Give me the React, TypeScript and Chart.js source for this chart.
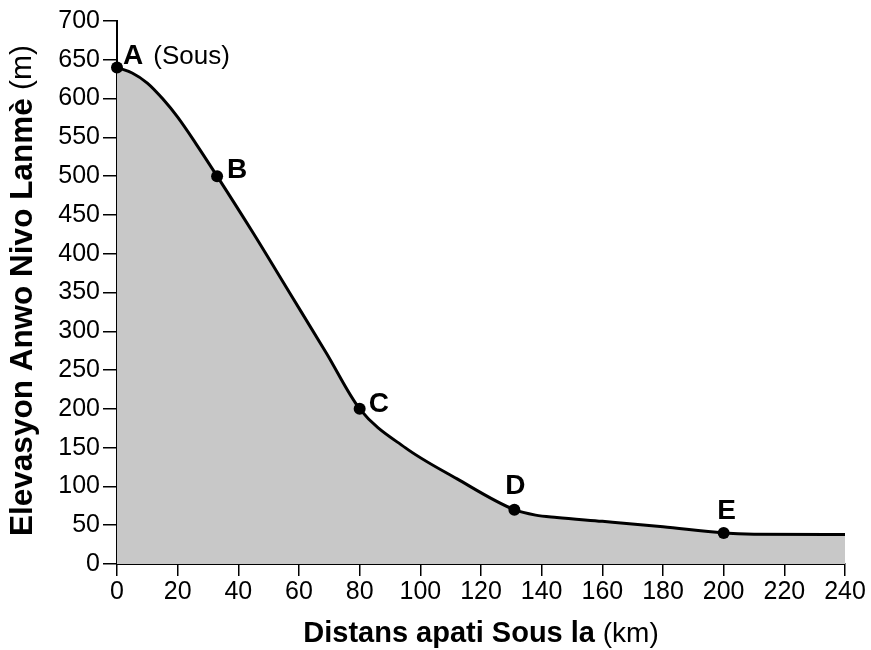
import { useEffect, useRef } from "react";
import { Chart, registerables } from "chart.js";

Chart.register(...registerables);

// Profile of the river bed (km from source, elevation in m)
const profileKm = [0, 5, 10, 15, 20, 26, 33, 45, 57, 69, 80, 95, 112, 131, 138, 145, 160, 180, 200, 210, 240];
const profileElev = [640, 633, 620, 600, 576, 542, 500, 426, 349, 272, 200, 150, 110, 70, 63, 60, 55, 48, 40, 38.5, 38];

// Labelled stations
const stationNames = ["A", "B", "C", "D", "E"];
const stationNotes = ["(Sous)", "", "", "", ""];
const stationKm = [0, 33, 80, 131, 200];
const stationElev = [640, 500, 200, 70, 40];

// Axes
const xTicks = [0, 20, 40, 60, 80, 100, 120, 140, 160, 180, 200, 220, 240];
const yTicks = [0, 50, 100, 150, 200, 250, 300, 350, 400, 450, 500, 550, 600, 650, 700];
const xTitleMain = "Distans apati Sous la";
const xTitleUnit = " (km)";
const yTitleMain = "Elevasyon Anwo Nivo Lanmè";
const yTitleUnit = " (m)";

const FONT = "'Liberation Sans', Arial, Helvetica, sans-serif";

// label placement (style only)
const labelStyle = [
  { dx: 6, dy: -11, align: "left" },
  { dx: 10, dy: -6, align: "left" },
  { dx: 9, dy: -5, align: "left" },
  { dx: 1, dy: -23, align: "center" },
  { dx: 3, dy: -22, align: "center" },
];

function drawMixed(
  ctx: CanvasRenderingContext2D,
  parts: { text: string; font: string }[],
  cx: number,
  cy: number,
  rotate: number
) {
  ctx.save();
  ctx.translate(cx, cy);
  ctx.rotate(rotate);
  let total = 0;
  const widths = parts.map((p) => {
    ctx.font = p.font;
    const w = ctx.measureText(p.text).width;
    total += w;
    return w;
  });
  let x = -total / 2;
  ctx.fillStyle = "#000";
  ctx.textBaseline = "middle";
  ctx.textAlign = "left";
  parts.forEach((p, i) => {
    ctx.font = p.font;
    ctx.fillText(p.text, x, 0);
    x += widths[i];
  });
  ctx.restore();
}

const annotationPlugin = {
  id: "profileAnnotations",
  afterDraw(chart: any) {
    const ctx: CanvasRenderingContext2D = chart.ctx;
    const xs = chart.scales.x;
    const ys = chart.scales.y;
    const area = chart.chartArea;

    stationNames.forEach((name, i) => {
      const px = xs.getPixelForValue(stationKm[i]);
      const py = ys.getPixelForValue(stationElev[i]);
      const st = labelStyle[i];
      ctx.save();
      ctx.fillStyle = "#000";
      ctx.textBaseline = "middle";
      ctx.font = `bold 28px ${FONT}`;
      ctx.textAlign = st.align as CanvasTextAlign;
      const x0 = px + st.dx;
      const y0 = py + st.dy;
      ctx.fillText(name, x0, y0);
      if (stationNotes[i]) {
        const w = ctx.measureText(name).width;
        ctx.font = `26px ${FONT}`;
        ctx.textAlign = "left";
        ctx.fillText(stationNotes[i], x0 + w + 10, y0);
      }
      ctx.restore();
    });

    drawMixed(
      ctx,
      [
        { text: xTitleMain, font: `bold 29px ${FONT}` },
        { text: xTitleUnit, font: `28px ${FONT}` },
      ],
      (area.left + area.right) / 2,
      634,
      0
    );
    drawMixed(
      ctx,
      [
        { text: yTitleMain, font: `bold 31.5px ${FONT}` },
        { text: yTitleUnit, font: `30px ${FONT}` },
      ],
      23,
      (area.top + area.bottom) / 2 - 2,
      -Math.PI / 2
    );
  },
};

export default function App() {
  const ref = useRef<HTMLCanvasElement | null>(null);

  useEffect(() => {
    if (!ref.current) return;
    const chart = new Chart(ref.current, {
      type: "line",
      data: {
        datasets: [
          {
            label: "profile",
            data: profileKm.map((x, i) => ({ x, y: profileElev[i] })),
            borderColor: "#000",
            borderWidth: 3,
            backgroundColor: "#c8c8c8",
            fill: "origin",
            pointRadius: 0,
            cubicInterpolationMode: "monotone",
            order: 2,
          },
          {
            label: "stations",
            data: stationKm.map((x, i) => ({ x, y: stationElev[i] })),
            showLine: false,
            pointRadius: 6,
            pointBackgroundColor: "#000",
            pointBorderColor: "#000",
            pointBorderWidth: 0,
            clip: false as any,
            order: 1,
          },
        ],
      },
      options: {
        animation: false,
        responsive: false,
        layout: { padding: { left: 0, right: 26, top: 21, bottom: 0 } },
        plugins: {
          legend: { display: false },
          tooltip: { enabled: false },
          title: { display: false },
        },
        scales: {
          x: {
            type: "linear",
            min: 0,
            max: 240,
            z: 1,
            afterBuildTicks: (scale: any) => {
              scale.ticks = xTicks.map((v) => ({ value: v }));
            },
            afterFit: (scale: any) => {
              scale.height = 86;
            },
            border: { display: true, color: "#000", width: 2 },
            grid: {
              display: true,
              drawOnChartArea: false,
              drawTicks: true,
              tickLength: 12,
              color: "#000",
              lineWidth: 1.5,
            },
            ticks: {
              color: "#000",
              font: { family: FONT, size: 25 },
              padding: 1,
              maxRotation: 0,
              autoSkip: false,
            },
          },
          y: {
            type: "linear",
            min: 0,
            max: 700,
            z: 1,
            afterBuildTicks: (scale: any) => {
              scale.ticks = yTicks.map((v) => ({ value: v }));
            },
            afterFit: (scale: any) => {
              scale.width = 117;
            },
            border: { display: true, color: "#000", width: 2 },
            grid: {
              display: true,
              drawOnChartArea: false,
              drawTicks: true,
              tickLength: 14,
              color: "#000",
              lineWidth: 1.5,
            },
            ticks: {
              color: "#000",
              font: { family: FONT, size: 25 },
              padding: 3,
              autoSkip: false,
            },
          },
        },
      },
      plugins: [annotationPlugin],
    });
    return () => chart.destroy();
  }, []);

  return (
    <div style={{ position: "fixed", left: 0, top: 0, width: 871, height: 650, background: "#fff" }}>
      <canvas ref={ref} width={871} height={650} style={{ width: 871, height: 650, display: "block" }} />
    </div>
  );
}
